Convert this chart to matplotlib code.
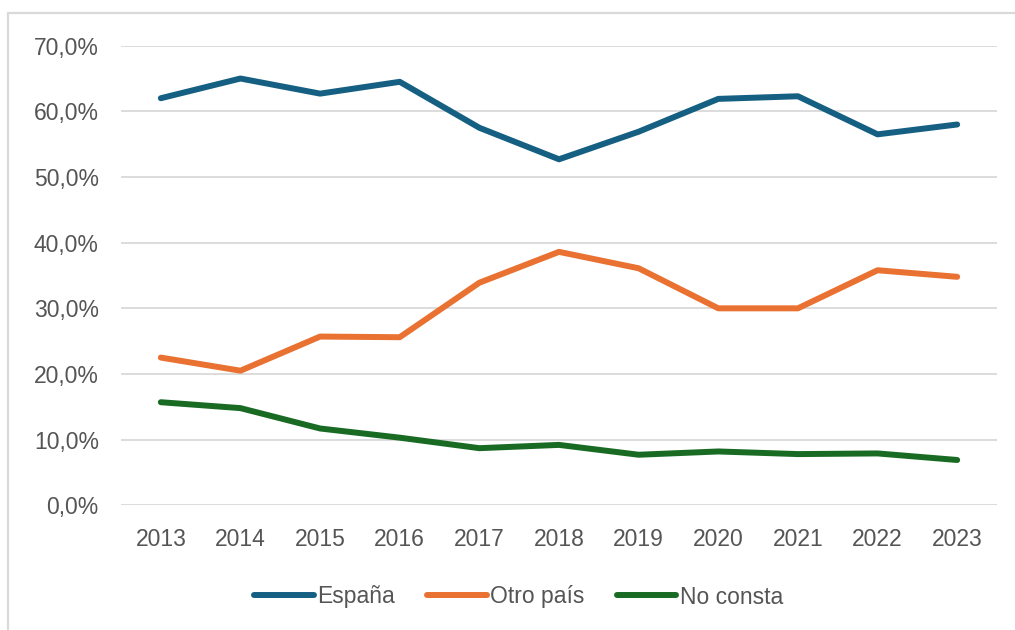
import matplotlib
matplotlib.use("Agg")
import matplotlib.pyplot as plt
from matplotlib.ticker import FuncFormatter
from matplotlib.patches import Rectangle

years = ["2013", "2014", "2015", "2016", "2017", "2018", "2019", "2020", "2021", "2022", "2023"]
espana = [62.0, 65.0, 62.7, 64.5, 57.5, 52.7, 56.9, 61.9, 62.3, 56.5, 58.0]
otro_pais = [22.5, 20.5, 25.7, 25.6, 33.9, 38.6, 36.1, 30.0, 30.0, 35.8, 34.8]
no_consta = [15.7, 14.8, 11.7, 10.3, 8.7, 9.2, 7.7, 8.2, 7.8, 7.9, 6.9]
series_names = ["España", "Otro país", "No consta"]
colors = ["#156082", "#E97132", "#196B24"]

plt.rcParams['font.family'] = ['Liberation Sans', 'DejaVu Sans']

W, H = 1015, 630
fig = plt.figure(figsize=(W / 100, H / 100), dpi=100)
fig.patch.set_facecolor("white")

# outer chart frame (top and left edges visible)
frame = Rectangle((8 / W, -0.05), 1.2, 1 - 13 / H + 0.05, transform=fig.transFigure,
                  facecolor="none", edgecolor="#D9D9D9", linewidth=1.6, zorder=0)
fig.patches.append(frame)

left, right, top, bottom = 121 / W, 997 / W, 1 - 45.7 / H, 1 - 505.3 / H
ax = fig.add_axes([left, bottom, right - left, top - bottom])

x = list(range(len(years)))
for vals, name, c in zip([espana, otro_pais, no_consta], series_names, colors):
    ax.plot(x, vals, color=c, linewidth=4.3, label=name, solid_capstyle="round",
            solid_joinstyle="round", zorder=3)

ax.set_ylim(0, 70)
ax.set_xlim(-0.5, len(years) - 0.5)
ax.set_yticks(range(0, 71, 10))
ax.yaxis.set_major_formatter(FuncFormatter(lambda v, p: f"{v:.1f}%".replace(".", ",")))
ax.set_xticks(x)
ax.set_xticklabels(years)

ax.grid(axis="y", color="#D9D9D9", linewidth=1.3)
ax.grid(axis="x", visible=False)
ax.set_axisbelow(True)
for s in ax.spines.values():
    s.set_visible(False)
ax.tick_params(axis="both", length=0, labelsize=16.5, labelcolor="#555555")
ax.tick_params(axis="y", pad=16)
ax.tick_params(axis="x", pad=16)

leg = fig.legend(loc="center", bbox_to_anchor=(0.511, 1 - 597 / H), ncol=3, frameon=False,
                 fontsize=16.5, labelcolor="#555555", handlelength=2.6, handletextpad=0.15,
                 columnspacing=1.4)
for line in leg.get_lines():
    line.set_linewidth(4.3)
    line.set_solid_capstyle("round")

fig.savefig("out.png", dpi=100, facecolor="white")
